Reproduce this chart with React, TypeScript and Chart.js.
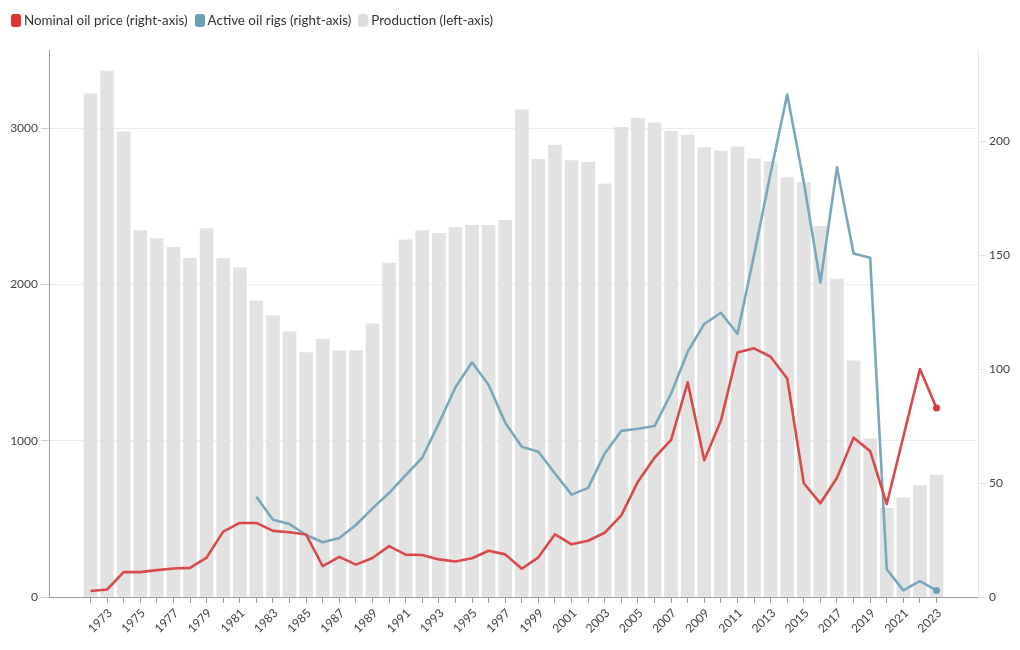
import React, { useEffect, useRef } from 'react';
import { Chart, registerables } from 'chart.js';

Chart.register(...registerables);

const years = [
  1972, 1973, 1974, 1975, 1976, 1977, 1978, 1979, 1980, 1981,
  1982, 1983, 1984, 1985, 1986, 1987, 1988, 1989, 1990, 1991,
  1992, 1993, 1994, 1995, 1996, 1997, 1998, 1999, 2000, 2001,
  2002, 2003, 2004, 2005, 2006, 2007, 2008, 2009, 2010, 2011,
  2012, 2013, 2014, 2015, 2016, 2017, 2018, 2019, 2020, 2021,
  2022, 2023,
];

const production = [
  3220, 3365, 2976, 2346, 2295, 2237, 2167, 2357, 2167, 2107,
  1895, 1799, 1697, 1564, 1650, 1575, 1577, 1748, 2137, 2286,
  2346, 2327, 2365, 2378, 2378, 2410, 3117, 2801, 2891, 2792,
  2782, 2643, 3006, 3064, 3034, 2981, 2955, 2876, 2853, 2880,
  2804, 2786, 2684, 2654, 2372, 2034, 1511, 1013, 568, 635,
  713, 782,
];

const oilPrice = [
  2.6, 3.3, 10.9, 10.9, 11.8, 12.5, 12.8, 17.3, 28.7, 32.5,
  32.5, 29.0, 28.4, 27.4, 13.5, 17.6, 14.2, 17.1, 22.3, 18.6,
  18.4, 16.5, 15.6, 17.0, 20.3, 18.7, 12.4, 17.4, 27.5, 23.1,
  24.7, 28.2, 35.8, 50.6, 61.1, 68.9, 94.2, 60.0, 77.3, 107.3,
  109.1, 105.4, 95.9, 49.9, 41.1, 52.3, 69.9, 64.0, 40.8, 70.3,
  100.0, 82.9,
];

const rigYears = [
  1982, 1983, 1984, 1985, 1986, 1987, 1988, 1989, 1990, 1991,
  1992, 1993, 1994, 1995, 1996, 1997, 1998, 1999, 2000, 2001,
  2002, 2003, 2004, 2005, 2006, 2007, 2008, 2009, 2010, 2011,
  2012, 2013, 2014, 2015, 2016, 2017, 2018, 2019, 2020, 2021,
  2022, 2023,
];

const activeRigs = [
  44.0, 33.9, 32.0, 27.2, 24.0, 25.9, 31.6, 38.9, 45.6, 53.5,
  61.1, 76.2, 92.0, 103.0, 93.0, 76.5, 65.9, 63.7, 54.2, 44.9,
  47.9, 63.0, 72.9, 73.8, 75.0, 89.3, 107.6, 119.8, 124.7, 115.5,
  150.0, 186.0, 220.5, 182.0, 138.0, 188.5, 150.7, 148.8, 12.2, 2.9,
  7.0, 2.9,
];

const leftTicks = [0, 1000, 2000, 3000];
const rightTicks = [0, 50, 100, 150, 200];

const seriesNames = [
  'Nominal oil price (right-axis)',
  'Active oil rigs (right-axis)',
  'Production (left-axis)',
];

const RED = '#d94a4c';
const BLUE = '#7ba7bb';
const GREY = '#e2e2e2';
const legendColors = ['#e03535', '#6c9fb8', '#dddddd'];

const FONT = 'Lato, "Open Sans", sans-serif';

export default function App() {
  const canvasRef = useRef<HTMLCanvasElement | null>(null);

  useEffect(() => {
    if (!canvasRef.current) return;
    const lastPrice = oilPrice.length - 1;
    const lastRig = activeRigs.length - 1;
    const chart = new Chart(canvasRef.current, {
      type: 'bar',
      data: {
        datasets: [
          {
            type: 'line',
            label: seriesNames[0],
            data: years.map((yr, i) => ({ x: yr, y: oilPrice[i] })),
            yAxisID: 'y1',
            borderColor: RED,
            backgroundColor: RED,
            borderWidth: 2.6,
            tension: 0,
            borderJoinStyle: 'round',
            pointRadius: (ctx: any) => (ctx.dataIndex === lastPrice ? 3.5 : 0),
            pointBackgroundColor: '#e03535',
            pointBorderWidth: 0,
            pointHoverRadius: 0,
          } as any,
          {
            type: 'line',
            label: seriesNames[1],
            data: rigYears.map((yr, i) => ({ x: yr, y: activeRigs[i] })),
            yAxisID: 'y1',
            borderColor: BLUE,
            backgroundColor: BLUE,
            borderWidth: 2.6,
            tension: 0,
            borderJoinStyle: 'round',
            pointRadius: (ctx: any) => (ctx.dataIndex === lastRig ? 3.5 : 0),
            pointBackgroundColor: '#6c9fb8',
            pointBorderWidth: 0,
            pointHoverRadius: 0,
          } as any,
          {
            type: 'bar',
            label: seriesNames[2],
            data: years.map((yr, i) => ({ x: yr, y: production[i] })),
            yAxisID: 'y',
            backgroundColor: GREY,
            borderWidth: 0,
            barThickness: 13,
          } as any,
        ],
      },
      options: {
        animation: false,
        responsive: true,
        maintainAspectRatio: false,
        layout: { padding: { top: 50, left: 0, right: 0, bottom: 0 } },
        plugins: {
          legend: { display: false },
          tooltip: { enabled: false },
        },
        scales: {
          x: {
            type: 'linear',
            min: 1969.5,
            max: 2025.5,
            offset: false,
            afterBuildTicks: (scale: any) => {
              scale.ticks = years.map((v) => ({ value: v }));
            },
            afterFit: (scale: any) => {
              scale.height = 53;
              scale.paddingLeft = 0;
              scale.paddingRight = 0;
            },
            border: { display: true, color: '#9a9a9a', width: 1 },
            grid: {
              display: true,
              offset: false,
              drawOnChartArea: false,
              drawTicks: true,
              tickLength: 6,
              tickColor: '#9a9a9a',
            },
            ticks: {
              autoSkip: false,
              maxRotation: 45,
              minRotation: 45,
              padding: 3,
              labelOffset: 3,
              color: '#444',
              font: { family: FONT, size: 12 },
              callback: (v: any) => (Number(v) % 2 === 1 ? String(v) : ''),
            },
          },
          y: {
            type: 'linear',
            position: 'left',
            min: 0,
            max: 3500,
            afterBuildTicks: (scale: any) => {
              scale.ticks = leftTicks.map((v) => ({ value: v }));
            },
            afterFit: (scale: any) => {
              scale.width = 49;
            },
            border: { display: true, color: '#9a9a9a', width: 1 },
            grid: {
              color: '#ececec',
              tickLength: 8,
              tickColor: '#d0d0d0',
            },
            ticks: {
              padding: 3,
              color: '#444',
              font: { family: FONT, size: 12 },
              callback: (v: any) => String(v),
            },
          },
          y1: {
            type: 'linear',
            position: 'right',
            min: 0,
            max: 240,
            afterBuildTicks: (scale: any) => {
              scale.ticks = rightTicks.map((v) => ({ value: v }));
            },
            afterFit: (scale: any) => {
              scale.width = 42;
            },
            border: { display: true, color: '#e6e6e6', width: 1 },
            grid: {
              drawOnChartArea: false,
              tickLength: 8,
              tickColor: '#e6e6e6',
            },
            ticks: {
              padding: 3,
              color: '#444',
              font: { family: FONT, size: 12 },
              callback: (v: any) => String(v),
            },
          },
        },
      } as any,
    });
    return () => chart.destroy();
  }, []);

  return (
    <div
      style={{
        position: 'fixed',
        left: 0,
        top: 0,
        width: 1020,
        height: 650,
        background: '#fff',
        fontFamily: FONT,
      }}
    >
      <div
        style={{
          position: 'absolute',
          top: 12,
          left: 11,
          display: 'flex',
          alignItems: 'center',
          fontSize: 13.4,
          color: '#333',
          lineHeight: '16px',
          whiteSpace: 'nowrap',
        }}
      >
        {seriesNames.map((name, i) => (
          <div key={name} style={{ display: 'flex', alignItems: 'center', marginRight: 7 }}>
            <span
              style={{
                display: 'inline-block',
                width: 10,
                height: 13,
                borderRadius: 3,
                background: legendColors[i],
                marginRight: 3,
              }}
            />
            <span>{name}</span>
          </div>
        ))}
      </div>
      <canvas ref={canvasRef} />
    </div>
  );
}
